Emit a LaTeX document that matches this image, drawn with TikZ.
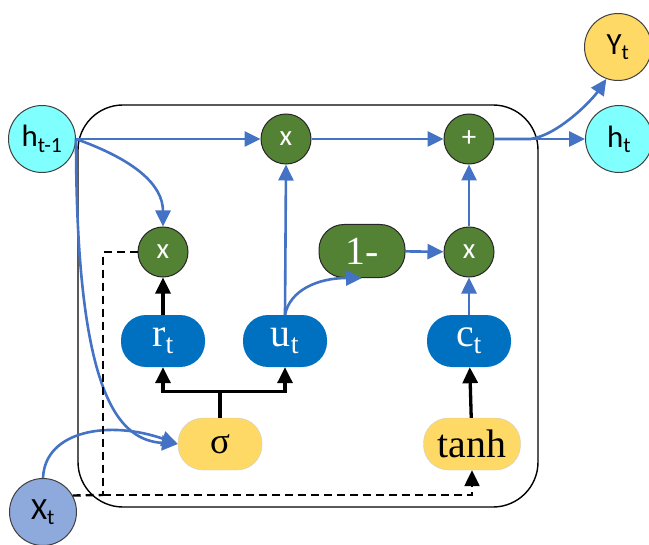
\documentclass[tikz,border=0pt]{standalone}
\usepackage{fontspec}
\setmainfont{Liberation Serif}
\newfontfamily\circfont{Carlito}
\usetikzlibrary{arrows.meta}

\definecolor{cyanfill}{HTML}{80FFFF}
\definecolor{opgreen}{HTML}{548235}
\definecolor{gateblue}{HTML}{0070C0}
\definecolor{actyellow}{HTML}{FFD966}
\definecolor{inblue}{HTML}{8EA9DB}
\definecolor{flowblue}{HTML}{4472C4}

\begin{document}
\begin{tikzpicture}[x=1bp,y=-1bp,>={Triangle[length=16bp,width=15bp]},
    state/.style={circle,draw=black!75,line width=1bp,minimum size=67bp,inner sep=0pt,
      font=\circfont\fontsize{31}{31}\selectfont},
    op/.style={circle,draw=black!85,line width=1bp,fill=opgreen,text=white,minimum size=50bp,
      inner sep=0pt,font=\circfont\fontsize{29}{29}\selectfont},
    gatebox/.style={rectangle,rounded corners=25bp,minimum width=84bp,minimum height=52bp,
      inner sep=0pt,font=\fontsize{40}{40}\selectfont},
    flow/.style={draw=flowblue,line width=2.6bp},
    ctrl/.style={draw=black,line width=3.3bp},
    dashpath/.style={draw=black,line width=2.4bp,dash pattern=on 8bp off 5bp}]
    \useasboundingbox (0,0) rectangle (649,545);

    \draw[line width=1.4bp,rounded corners=45bp] (78,105) rectangle (538,507);

    \draw (42,139)  node[state,fill=cyanfill] (hprev) {h\textsubscript{t-1}} ;
    \draw (43,512)  node[state,fill=inblue] (xin) {X\textsubscript{t}} ;
    \draw (618,47)  node[state,fill=actyellow] (yout) {Y\textsubscript{t}} ;
    \draw (619,139) node[state,fill=cyanfill] (hnext) {h\textsubscript{t}} ;

    \draw (286,139) node[op] (mulu) {x} ;
    \draw (469,139) node[op] (addh) {+} ;
    \draw (163,252) node[op] (mulr) {x} ;
    \draw (469,252) node[op] (mulc) {x} ;
    \draw (362,251) node[op,rectangle,rounded corners=25bp,minimum width=86bp,minimum height=53bp,
      font=\fontsize{40}{40}\selectfont] (oneminus) {1-} ;

    \draw (163,341) node[gatebox,fill=gateblue,text=white] (rgate) {r\textsubscript{t}} ;
    \draw (285,341) node[gatebox,fill=gateblue,text=white] (ugate) {u\textsubscript{t}} ;
    \draw (469,341) node[gatebox,fill=gateblue,text=white] (cgate) {c\textsubscript{t}} ;
    \draw (220,444) node[gatebox,draw=black!20,fill=actyellow,font=\fontsize{37}{37}\selectfont] (sig) {σ} ;
    \draw (472,444) node[gatebox,draw=black!20,fill=actyellow,minimum width=97bp] (tanhbox) {tanh} ;

    \coordinate (dj) at (103,495);

    \draw[flow,->] (hprev) -- (mulu);
    \draw[flow,->] (mulu) -- (addh);
    \draw[flow,->] (addh) -- (hnext);
    \draw[flow,->] (addh.east) -- +(36,0) .. controls +(28,-4) and (592,100) .. (yout.250);
    \draw[flow,->] (hprev.east) .. controls (135,160) and (163,185) .. (mulr.north);
    \draw[flow,->] (hprev.east) .. controls (76,400) and (120,440) .. (sig.west);
    \draw[flow,->] (xin.north) .. controls (45,430) and (110,420) .. (sig.west);
    \draw[flow,->] (ugate.north) -- (mulu.south);
    \draw[flow,->] (ugate.north) .. controls (290,290) and (318,278) .. (oneminus.south);
    \draw[flow,->] (oneminus) -- (mulc);
    \draw[flow,->] (mulc) -- (addh);
    \draw[flow,->] (cgate) -- (mulc);

    \draw[ctrl,->] (rgate) -- (mulr);
    \draw[ctrl,->] (sig.north) -- ++(0,-26) -| (rgate.south);
    \draw[ctrl,->] (sig.north) -- ++(0,-26) -| (ugate.south);
    \draw[ctrl,->] (tanhbox) -- (cgate);

    \draw[dashpath] (mulr.west) -| (dj);
    \draw[dashpath] (xin.29) -- (dj);
    \draw[dashpath,->] (dj) -| (tanhbox.south);
  \end{tikzpicture}
\end{document}
